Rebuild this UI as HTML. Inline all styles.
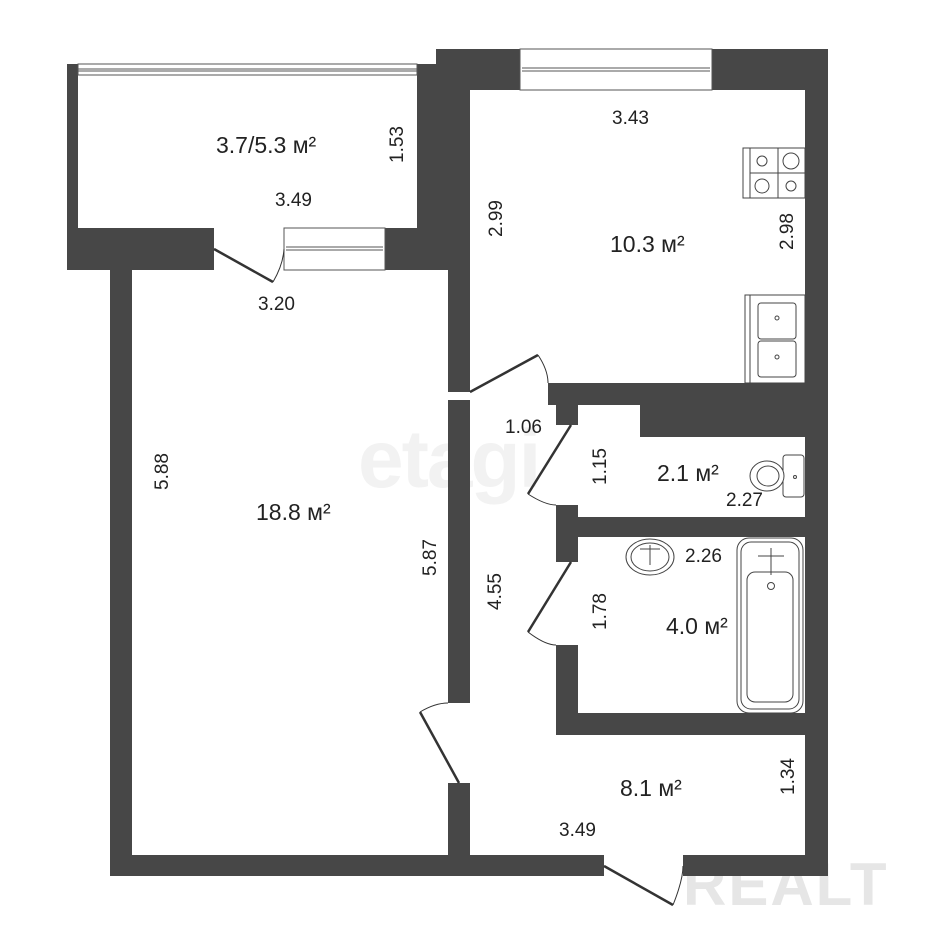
<!DOCTYPE html>
<html><head><meta charset="utf-8"><style>
html,body{margin:0;padding:0;background:#fff}
svg{display:block}
text{font-family:"Liberation Sans",sans-serif;fill:#222}
</style></head><body>
<svg width="926" height="926" viewBox="0 0 926 926" xmlns="http://www.w3.org/2000/svg">
<!-- watermarks -->
<text x="358" y="487" font-size="82" font-weight="bold" style="fill:#f2f2f2" letter-spacing="-2">etagi</text>
<text x="683" y="905" font-size="60" font-weight="bold" style="fill:#e6e6e6" letter-spacing="2">REALT</text>
<g fill="#474747">
<!-- balcony -->
<rect x="67" y="64" width="11" height="206"/>
<rect x="67" y="228" width="147" height="42"/>
<rect x="385" y="228" width="63" height="42"/>
<rect x="417" y="64" width="20" height="170"/>
<!-- kitchen outer -->
<rect x="436" y="49" width="84" height="41"/>
<rect x="712" y="49" width="116" height="41"/>
<rect x="436" y="49" width="34" height="221"/>
<rect x="805" y="49" width="23" height="827"/>
<!-- living left -->
<rect x="110" y="270" width="22" height="606"/>
<!-- partition living/hall -->
<rect x="448" y="270" width="22" height="122"/>
<rect x="448" y="400" width="22" height="303"/>
<rect x="448" y="783" width="22" height="93"/>
<!-- bottom wall -->
<rect x="110" y="855" width="494" height="21"/>
<rect x="683" y="855" width="145" height="21"/>
<!-- kitchen bottom -->
<rect x="548" y="383" width="280" height="22"/>
<rect x="640" y="383" width="188" height="54"/>
<!-- toilet/bath left -->
<rect x="556" y="400" width="22" height="25"/>
<rect x="556" y="505" width="22" height="57"/>
<rect x="556" y="517" width="272" height="20"/>
<rect x="556" y="645" width="22" height="90"/>
<rect x="556" y="713" width="272" height="22"/>
</g>
<!-- windows -->
<g fill="#fff" stroke="#555" stroke-width="1">
<rect x="78" y="64" width="339" height="11"/>
<rect x="520" y="49" width="192" height="41"/>
<rect x="284" y="228" width="101" height="42"/>
</g>
<g stroke="#555" stroke-width="1" fill="none">
<line x1="78" y1="69" x2="417" y2="69"/><line x1="78" y1="71" x2="417" y2="71"/>
<line x1="522" y1="68" x2="710" y2="68"/><line x1="522" y1="71" x2="710" y2="71"/>
<line x1="286" y1="247" x2="383" y2="247"/><line x1="286" y1="250" x2="383" y2="250"/>
</g>
<!-- doors -->
<g stroke="#333" stroke-width="2.5" fill="none">
<line x1="214" y1="249" x2="273" y2="282"/>
<line x1="470" y1="392" x2="538" y2="355"/>
<line x1="571" y1="425" x2="528" y2="494"/>
<line x1="571" y1="562" x2="528" y2="632"/>
<line x1="459" y1="783" x2="420" y2="712"/>
<line x1="604" y1="866" x2="673" y2="905"/>
</g>
<g stroke="#333" stroke-width="1" fill="none">
<path d="M273 282 Q283 265 284 249"/>
<path d="M538 355 Q548 370 548 383"/>
<path d="M528 494 Q545 505 556 505"/>
<path d="M528 632 Q545 645 556 645"/>
<path d="M420 712 Q435 703 448 703"/>
<path d="M673 905 Q683 880 683 866"/>
</g>
<!-- stove -->
<g stroke="#444" stroke-width="1" fill="#fff">
<rect x="743" y="148" width="62" height="50"/>
<line x1="750" y1="148" x2="750" y2="198"/>
<line x1="778" y1="148" x2="778" y2="198"/>
<line x1="750" y1="173" x2="805" y2="173"/>
<circle cx="762" cy="161" r="5"/><circle cx="791" cy="161" r="8"/>
<circle cx="762" cy="186" r="7"/><circle cx="791" cy="186" r="5"/>
</g>
<!-- sink -->
<g stroke="#444" stroke-width="1" fill="#fff">
<rect x="745" y="295" width="60" height="88"/>
<line x1="750" y1="295" x2="750" y2="383"/>
<rect x="758" y="303" width="38" height="36" rx="3"/>
<rect x="758" y="341" width="38" height="36" rx="3"/>
<circle cx="777" cy="318" r="2"/><circle cx="777" cy="357" r="2"/>
</g>
<!-- toilet -->
<g stroke="#444" stroke-width="1" fill="#fff">
<rect x="783" y="455" width="21" height="42" rx="3"/>
<ellipse cx="767" cy="476" rx="17" ry="15"/>
<ellipse cx="768" cy="476" rx="11" ry="10"/>
<circle cx="795" cy="477" r="1.5"/>
</g>
<!-- washbasin -->
<g stroke="#444" stroke-width="1" fill="#fff">
<ellipse cx="650" cy="557" rx="24" ry="18"/>
<ellipse cx="650" cy="557" rx="19" ry="14"/>
<line x1="640" y1="549" x2="660" y2="549"/><line x1="650" y1="545" x2="650" y2="565"/>
</g>
<!-- bath -->
<g stroke="#444" stroke-width="1" fill="#fff">
<rect x="737" y="538" width="66" height="175" rx="12"/>
<rect x="741" y="542" width="58" height="167" rx="10"/>
<rect x="747" y="572" width="46" height="130" rx="8"/>
<line x1="758" y1="556" x2="784" y2="556"/><line x1="771" y1="548" x2="771" y2="575"/>
<circle cx="771" cy="586" r="3.5"/>
</g>
<!-- labels -->
<g font-size="19">
<g font-size="23">
<text x="216" y="153">3.7/5.3 м²</text>
<text x="610" y="252">10.3 м²</text>
<text x="256" y="520">18.8 м²</text>
<text x="657" y="481">2.1 м²</text>
<text x="666" y="634">4.0 м²</text>
<text x="620" y="796">8.1 м²</text>
</g>
<text x="275" y="206">3.49</text>
<text x="258" y="310">3.20</text>
<text x="612" y="124">3.43</text>
<text x="505" y="433">1.06</text>
<text x="726" y="506">2.27</text>
<text x="685" y="562">2.26</text>
<text x="559" y="836">3.49</text>
<text transform="translate(403,163) rotate(-90)">1.53</text>
<text transform="translate(502,237) rotate(-90)">2.99</text>
<text transform="translate(793,250) rotate(-90)">2.98</text>
<text transform="translate(168,490) rotate(-90)">5.88</text>
<text transform="translate(436,576) rotate(-90)">5.87</text>
<text transform="translate(501,610) rotate(-90)">4.55</text>
<text transform="translate(606,485) rotate(-90)">1.15</text>
<text transform="translate(606,630) rotate(-90)">1.78</text>
<text transform="translate(794,795) rotate(-90)">1.34</text>
</g>
</svg>
</body></html>
